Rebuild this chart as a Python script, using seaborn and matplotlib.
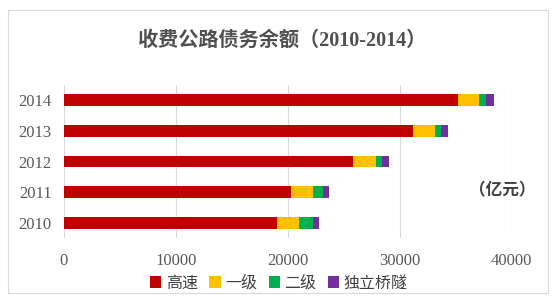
import matplotlib
matplotlib.use("Agg")
import matplotlib.pyplot as plt
from matplotlib.patches import Patch, Rectangle
import seaborn as sns
import pandas as pd
import numpy as np

years = ["2014", "2013", "2012", "2011", "2010"]
series_names = ["高速", "一级", "二级", "独立桥隧"]
gaosu = [35180, 31220, 25830, 20260, 19060]
yiji = [1890, 1910, 2020, 2020, 1940]
erji = [650, 590, 540, 840, 1280]
qiaosui = [720, 570, 650, 530, 540]
colors = ["#C00000", "#FFC000", "#00B050", "#7030A0"]
xticks = [0, 10000, 20000, 30000, 40000]
title = "收费公路债务余额（2010-2014）"
unit = "（亿元）"

sns.set_theme(style="white")
plt.rcParams["font.family"] = ["Noto Sans CJK SC", "DejaVu Sans"]

df = pd.DataFrame({"year": years, "高速": gaosu, "一级": yiji, "二级": erji, "独立桥隧": qiaosui})
cum = df[series_names].cumsum(axis=1)

fig = plt.figure(figsize=(5.6, 3.04), dpi=100)
ax = fig.add_axes([64 / 560, 1 - 238 / 304, (511.7 - 64) / 560, (238 - 85) / 304])

for name, col in reversed(list(zip(series_names, colors))):
    sns.barplot(x=cum[name].values, y=df["year"], order=years, orient="h",
                color=col, width=0.39, saturation=1, ax=ax, edgecolor="none", linewidth=0)

ax.set_xlim(0, 40000)
ax.set_ylim(4.5, -0.5)
ax.set_xticks(xticks)
ax.set_xticklabels([str(v) for v in xticks])
ax.set_xlabel("")
ax.set_ylabel("")
for s in ax.spines.values():
    s.set_visible(False)
ax.grid(axis="x", color="#D9D9D9", linewidth=0.8)
ax.set_axisbelow(True)
ax.tick_params(length=0)
ax.tick_params(axis="y", pad=9)
ax.tick_params(axis="x", pad=11)
for lab in ax.get_xticklabels() + ax.get_yticklabels():
    lab.set_family(["Liberation Serif", "DejaVu Serif"])
    lab.set_fontsize(12)
    lab.set_color("#595959")

fig.text(282 / 560, 1 - 41 / 304, title, ha="center", va="center", fontsize=14.5,
         fontweight="bold", color="#505050",
         family=["Liberation Serif", "Noto Sans CJK SC"])
fig.text(502 / 560, 1 - 190 / 304, unit, ha="center", va="center", fontsize=12,
         fontweight="bold", color="#404040", family=["Noto Sans CJK SC", "DejaVu Sans"])

handles = [Patch(facecolor=c, edgecolor="none", label=n) for n, c in zip(series_names, colors)]
leg = fig.legend(handles=handles, loc="center", bbox_to_anchor=(279 / 560, 1 - 283 / 304),
                 ncol=4, frameon=False, fontsize=11.5, handlelength=0.7, handleheight=0.7,
                 handletextpad=0.3, columnspacing=0.7, borderaxespad=0)
for t in leg.get_texts():
    t.set_color("#404040")

fig.patches.append(Rectangle((8 / 560, 1 - 293 / 304), 540 / 560, 283 / 304,
                             transform=fig.transFigure, fill=False, edgecolor="#D9D9D9",
                             linewidth=0.8, zorder=-1))

fig.savefig("out.png", dpi=100, facecolor="white")
